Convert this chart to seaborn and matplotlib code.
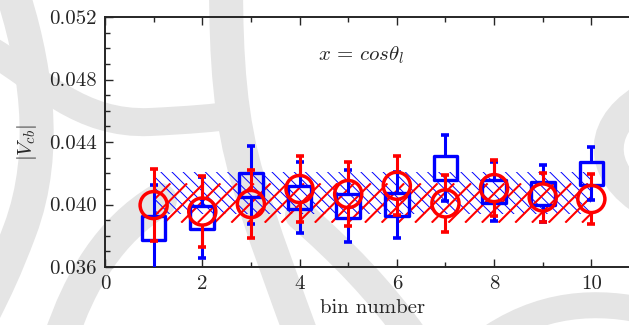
import matplotlib
matplotlib.use("Agg")
import matplotlib.pyplot as plt
from matplotlib.path import Path
from matplotlib.patches import PathPatch, Rectangle
from matplotlib.collections import LineCollection
from matplotlib.transforms import Affine2D, IdentityTransform
from matplotlib.ticker import MultipleLocator
import numpy as np
import pandas as pd
import seaborn as sns

# --- data -------------------------------------------------------------
bins = [1, 2, 3, 4, 5, 6, 7, 8, 9, 10]
vcb_blue = [0.03848, 0.03917, 0.04125, 0.04045, 0.03992, 0.03999, 0.04235, 0.04082, 0.04071, 0.04199]
err_blue = [0.00277, 0.00260, 0.00250, 0.00229, 0.00230, 0.00211, 0.00210, 0.00188, 0.00180, 0.00168]
vcb_red = [0.03996, 0.03955, 0.04003, 0.04099, 0.04067, 0.04120, 0.04007, 0.04105, 0.04045, 0.04035]
err_red = [0.00230, 0.00228, 0.00215, 0.00212, 0.00205, 0.00190, 0.00180, 0.00180, 0.00158, 0.00158]
band_blue = (0.03938, 0.04206)
band_red = (0.03884, 0.04135)
band_x = (1, 10)
ytick_labels = ["0.036", "0.040", "0.044", "0.048", "0.052"]
xtick_labels = ["0", "2", "4", "6", "8", "10"]

blue_df = pd.DataFrame({"bin": bins, "vcb": vcb_blue, "err": err_blue})
red_df = pd.DataFrame({"bin": bins, "vcb": vcb_red, "err": err_red})

# --- style ------------------------------------------------------------
sns.set_style("ticks")
plt.rcParams["font.family"] = ["cmr10"]
plt.rcParams["mathtext.fontset"] = "cm"
plt.rcParams["axes.unicode_minus"] = False
plt.rcParams["axes.formatter.use_mathtext"] = True
plt.rcParams["hatch.linewidth"] = 0.8

W, H = 629, 325
fig = plt.figure(figsize=(W / 100, H / 100), dpi=100)
fig.patch.set_facecolor("white")

# soft grey background swirls (pixel coordinates, y downward)
px = Affine2D().scale(1, -1).translate(0, H)
swirls = [
    ([(226, -20), (226, 60), (230, 120), (248, 180), (262, 230), (285, 290), (305, 345)], 34),
    ([(-10, 50), (40, 80), (80, 125), (150, 122), (190, 120), (215, 118), (235, 115)], 28),
    ([(10, -15), (35, 60), (50, 150), (20, 230), (5, 270), (-5, 290), (-15, 310)], 34),
    ([(60, 340), (80, 280), (110, 230), (160, 200)], 34),
    ([(300, 215), (340, 250), (380, 290), (415, 340)], 30),
    ([(650, 95), (600, 120), (590, 170), (650, 205)], 30),
    ([(480, 345), (540, 300), (600, 300), (650, 312)], 26),
]
for pts, w in swirls:
    codes = [Path.MOVETO] + [Path.CURVE4] * (len(pts) - 1)
    patch = PathPatch(Path(pts, codes), facecolor="none", edgecolor="#e5e5e5",
                      lw=w * 0.72, capstyle="round", transform=px, zorder=0)
    fig.add_artist(patch)

left, bottom, top = 105 / W, 1 - 267 / H, 1 - 17 / H
right = 640 / W
ax = fig.add_axes([left, bottom, right - left, top - bottom])
ax.set_facecolor("none")
ax.set_xlim(0, 11)
ax.set_ylim(0.036, 0.052)

# blue band: dense thin back-slash hatch
bx = np.array(band_x, dtype=float)
fb_blue = ax.fill_between(bx, band_blue[0], band_blue[1], facecolor="none", edgecolor="blue",
                          hatch="\\\\\\", linewidth=0, zorder=1)
if hasattr(fb_blue, "set_hatch_linewidth"):
    fb_blue.set_hatch_linewidth(0.7)

fig.canvas.draw()

# red band: wider forward-slash hatch, drawn as 45-degree strokes clipped to the band
red_rect = Rectangle((bx[0], band_red[0]), bx[1] - bx[0], band_red[1] - band_red[0],
                     facecolor="none", edgecolor="none", transform=ax.transData)
ax.add_patch(red_rect)
(x0, y0), (x1, y1) = ax.transData.transform([(bx[0], band_red[0]), (bx[1], band_red[1])])
hgt = y1 - y0
starts = np.arange(x0 - hgt, x1 + 1, 16.7)
segs = [[(c, y0), (c + hgt, y1)] for c in starts]
lc = LineCollection(segs, colors="red", linewidths=1.5, transform=IdentityTransform(), zorder=2)
ax.add_collection(lc, autolim=False)
lc.set_clip_path(red_rect)

# half marker height in data units, so error bars start at the marker edge
px_per_unit = (ax.transData.transform((0, 0.041))[1] - ax.transData.transform((0, 0.040))[1]) / 0.001
half_sq = 12.0 / px_per_unit
half_ci = 13.0 / px_per_unit


def bars(df, color, half, z):
    x, y, e = df["bin"].values, df["vcb"].values, df["err"].values
    ax.vlines(x, y + half, y + e, color=color, lw=2.2, zorder=z)
    ax.vlines(x, y - e, y - half, color=color, lw=2.2, zorder=z)
    ax.plot(x, y + e, ls="none", marker="_", ms=5.5, mew=2.6, color=color, zorder=z)
    ax.plot(x, y - e, ls="none", marker="_", ms=5.5, mew=2.6, color=color, zorder=z)


bars(blue_df, "blue", half_sq, 3)
sns.scatterplot(data=blue_df, x="bin", y="vcb", marker="s", s=17 ** 2,
                facecolor="none", edgecolor="blue", linewidth=2.4, ax=ax, zorder=4)
bars(red_df, "red", half_ci, 5)
sns.scatterplot(data=red_df, x="bin", y="vcb", marker="o", s=19.5 ** 2,
                facecolor="none", edgecolor="red", linewidth=2.5, ax=ax, zorder=6)

# axes and ticks
ax.set_yticks([float(t) for t in ytick_labels])
ax.set_yticklabels(ytick_labels)
ax.set_xticks([float(t) for t in xtick_labels])
ax.set_xticklabels(xtick_labels)
ax.xaxis.set_minor_locator(MultipleLocator(1))
ax.yaxis.set_minor_locator(MultipleLocator(0.001))
ax.tick_params(which="both", direction="in", top=True, right=True, labelsize=15, width=1.0)
ax.tick_params(which="major", length=6, pad=6)
ax.tick_params(which="minor", length=3.5)
for s in ax.spines.values():
    s.set_linewidth(1.4)

ax.set_xlabel("bin number", fontsize=15, labelpad=4)
ax.set_ylabel(r"$|V_{cb}|$", fontsize=15, labelpad=7)
ax.text(4.38, 0.04957, r"$x\,=\,cos\theta_l$", fontsize=15, ha="left", va="center")

fig.savefig("out.png", dpi=100)
